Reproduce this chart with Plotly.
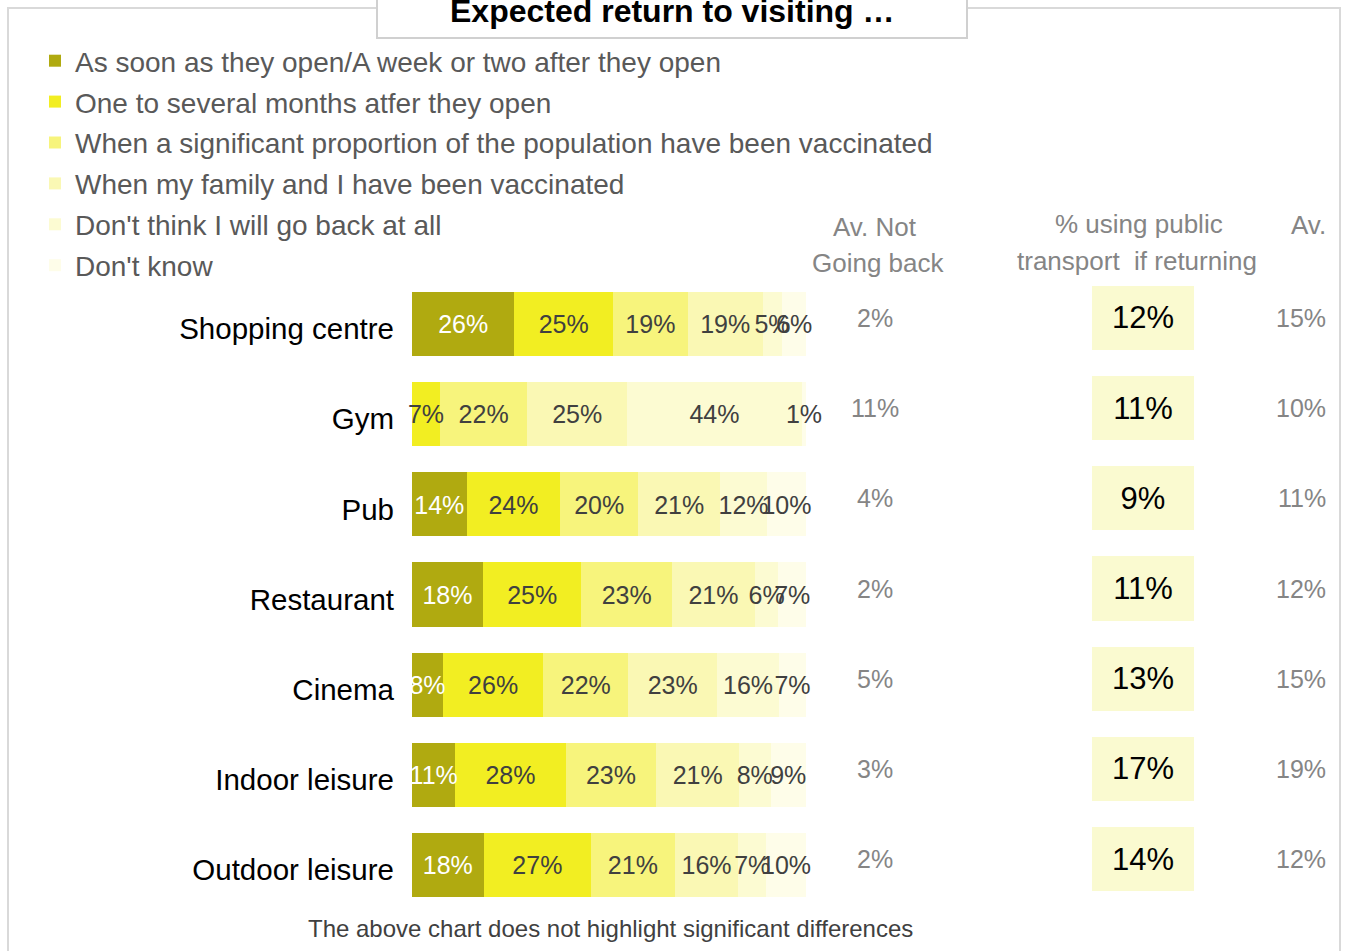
import plotly.graph_objects as go

categories = ["Shopping centre", "Gym", "Pub", "Restaurant", "Cinema", "Indoor leisure", "Outdoor leisure"]
series_names = [
    "As soon as they open/A week or two after they open",
    "One to several months atfer they open",
    "When a significant proportion of the population have been vaccinated",
    "When my family and I have been vaccinated",
    "Don't think I will go back at all",
    "Don't know",
]
soon = [26, 0, 14, 18, 8, 11, 18]
months = [25, 7, 24, 25, 26, 28, 27]
population = [19, 22, 20, 23, 22, 23, 21]
family = [19, 25, 21, 21, 23, 21, 16]
never = [5, 44, 12, 6, 16, 8, 7]
dont_know = [6, 1, 10, 7, 7, 9, 10]
av_not_going_back = [2, 11, 4, 2, 5, 3, 2]
public_transport = [12, 11, 9, 11, 13, 17, 14]
av_transport = [15, 10, 11, 12, 15, 19, 12]

series_values = [soon, months, population, family, never, dont_know]
colors = ["#B0AA10", "#F2EE22", "#F7F47C", "#FAF8B4", "#FCFBD2", "#FEFDE9"]
text_colors = ["#FFFFFF", "#404040", "#404040", "#404040", "#404040", "#404040"]

W, H = 1352, 951
def px(x):
    return x / W
def py(y):
    return 1 - y / H

FONT = "Liberation Sans, Arial, sans-serif"
n = len(categories)
cat_range = [n - 0.5, -0.5]

fig = go.Figure()
for i, (name, vals) in enumerate(zip(series_names, series_values)):
    fig.add_trace(go.Bar(
        y=categories, x=vals, orientation="h", name=name,
        marker=dict(color=colors[i], line=dict(width=0)),
        legendgroup=f"g{i}", hoverinfo="skip",
    ))

# segment labels drawn on top of all bars, centred in each (normalised) segment
totals = [sum(row) for row in zip(*series_values)]
cum = [0] * n
for i, vals in enumerate(series_values):
    xs, ys, ts = [], [], []
    for j, v in enumerate(vals):
        if v > 0:
            xs.append((cum[j] + v / 2) / totals[j] * 100)
            ys.append(categories[j])
            ts.append(f"{v}%")
        cum[j] += v
    fig.add_trace(go.Scatter(
        x=xs, y=ys, text=ts, mode="text", showlegend=False, cliponaxis=False,
        xaxis="x", yaxis="y3",
        textposition="middle center", hoverinfo="skip",
        textfont=dict(color=text_colors[i], size=25, family=FONT),
    ))

fig.add_trace(go.Bar(
    y=categories, x=[1] * n, orientation="h",
    xaxis="x2", yaxis="y2", showlegend=False,
    marker=dict(color="#FAFAD0", line=dict(width=0)),
    text=[f"{v}%" for v in public_transport],
    textposition="inside", insidetextanchor="middle", textangle=0,
    constraintext="none", cliponaxis=False,
    textfont=dict(color="#000000", size=31, family=FONT), hoverinfo="skip",
))

ydom = [py(910.1), py(278.9)]
up = 6 / H
down = 3 / H
fig.update_layout(
    width=W, height=H, margin=dict(l=0, r=0, t=0, b=0),
    paper_bgcolor="white", plot_bgcolor="rgba(0,0,0,0)",
    barmode="stack", barnorm="percent", bargap=0.29,
    font=dict(family=FONT),
    xaxis=dict(domain=[px(412), px(806)], range=[0, 100], visible=False, fixedrange=True),
    yaxis=dict(domain=ydom, range=cat_range, categoryorder="array", categoryarray=categories,
               showgrid=False, showline=False, zeroline=False,
               ticks="", ticklabelstandoff=17, ticklabelshift=-5,
               tickfont=dict(size=29.5, color="#000000", family=FONT)),
    yaxis3=dict(domain=[ydom[0] - down, ydom[1] - down], range=cat_range, visible=False,
                anchor="x", categoryorder="array", categoryarray=categories),
    xaxis2=dict(domain=[px(1092), px(1194)], range=[0, 100], visible=False, anchor="y2"),
    yaxis2=dict(domain=[ydom[0] + up, ydom[1] + up], range=cat_range, visible=False,
                anchor="x2", categoryorder="array", categoryarray=categories),
    showlegend=True,
    legend=dict(x=px(35), y=py(36), xanchor="left", yanchor="top", traceorder="grouped",
                tracegroupgap=1.5, font=dict(size=28, color="#595959", family=FONT),
                bgcolor="rgba(0,0,0,0)", itemclick=False, itemdoubleclick=False),
)

shapes = [
    dict(type="rect", xref="paper", yref="paper", x0=px(8), x1=px(1340), y0=-0.05, y1=py(8),
         line=dict(color="#D9D9D9", width=2), fillcolor="rgba(0,0,0,0)", layer="below"),
    dict(type="rect", xref="paper", yref="paper", x0=px(377), x1=px(967), y0=py(38), y1=1.05,
         line=dict(color="#D0D0D0", width=2), fillcolor="white", layer="below"),
]
fig.update_layout(shapes=shapes)

ann = []
ann.append(dict(text="<b>Expected return to visiting …</b>", x=px(672), y=py(11), xref="paper", yref="paper",
                showarrow=False, xanchor="center", yanchor="middle",
                font=dict(size=32, color="#000000", family=FONT)))
grey = "#858585"
for txt, x, y in [("Av. Not", 875, 227), ("Going back", 878, 263),
                  ("% using public", 1139, 224), ("transport  if returning", 1137, 261),
                  ("Av.", 1308, 225)]:
    ann.append(dict(text=txt, x=px(x), y=py(y), xref="paper", yref="paper", showarrow=False,
                    xanchor="center", yanchor="middle", font=dict(size=26, color=grey, family=FONT)))
for cat, v in zip(categories, av_not_going_back):
    ann.append(dict(text=f"{v}%", x=px(875), y=cat, xref="paper", yref="y2", showarrow=False,
                    xanchor="center", yanchor="middle", font=dict(size=25, color=grey, family=FONT)))
for cat, v in zip(categories, av_transport):
    ann.append(dict(text=f"{v}%", x=px(1328), y=cat, xref="paper", yref="y2", showarrow=False,
                    xanchor="right", yanchor="middle", font=dict(size=25, color=grey, family=FONT)))
ann.append(dict(text="The above chart does not highlight significant differences", x=px(610), y=py(928),
                xref="paper", yref="paper", showarrow=False, xanchor="center", yanchor="middle",
                font=dict(size=24, color="#404040", family=FONT)))
fig.update_layout(annotations=ann)

fig.write_html("out.html", config={"displayModeBar": False},
               post_script="document.body.style.margin='0';")
